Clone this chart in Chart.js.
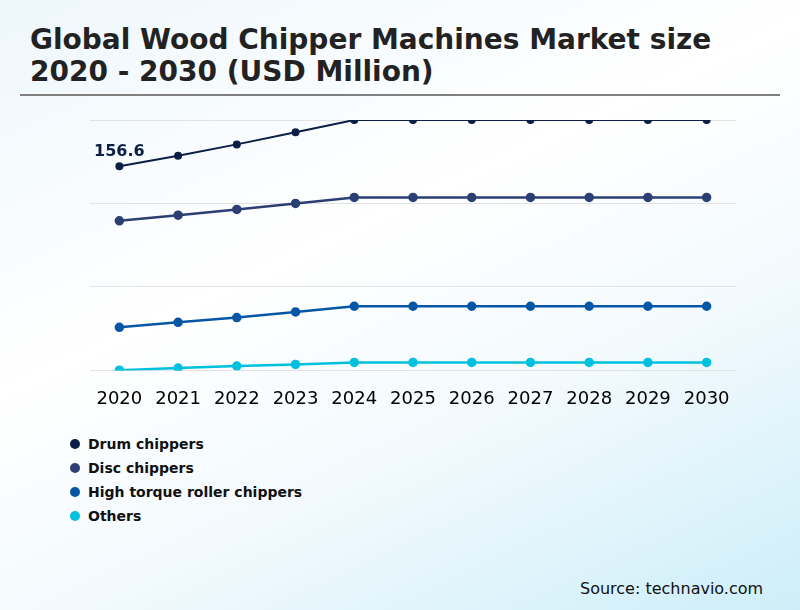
<!DOCTYPE html>
<html>
<head>
<meta charset="utf-8">
<script src="https://cdn.jsdelivr.net/npm/chart.js@4.4.0/dist/chart.umd.min.js"></script>
<style>
  html, body { margin: 0; padding: 0; }
  body {
    width: 800px; height: 610px; overflow: hidden; position: relative;
    font-family: "DejaVu Sans", sans-serif;
    background: linear-gradient(155deg, #eef7fc 0%, #ffffff 40%, #f3fafd 65%, #cdeef9 100%);
  }
  #title {
    position: absolute; left: 30px; top: 24px; margin: 0;
    font-size: 28px; font-weight: bold; line-height: 32px; color: #222;
  }
  #rule { position: absolute; left: 20px; top: 94px; width: 760px; height: 2px; background: #808080; }
  #wrap { position: absolute; left: 0; top: 100px; width: 800px; height: 328px; }
  #legend { position: absolute; left: 70px; top: 432px; }
  .item { height: 24px; display: flex; align-items: center; font-size: 14px; font-weight: bold; color: #111; }
  .dot { width: 10px; height: 10px; border-radius: 50%; margin-right: 8px; }
  #source { position: absolute; left: 580px; top: 579px; font-size: 16px; color: #111; }
</style>
</head>
<body>
<div id="title">Global Wood Chipper Machines Market size<br>2020 - 2030 (USD Million)</div>
<div id="rule"></div>
<div id="wrap"><canvas id="chipperChart"></canvas></div>
<div id="legend"></div>
<div id="source">Source: technavio.com</div>
<script>
// Data
const years = ['2020', '2021', '2022', '2023', '2024', '2025', '2026', '2027', '2028', '2029', '2030'];
const seriesNames = ['Drum chippers', 'Disc chippers', 'High torque roller chippers', 'Others'];
const seriesColors = ['#0b1e45', '#2c3f73', '#0557a6', '#00c0e0'];
const drumValues = [156.6, 164.6, 173.3, 182.6, 192, 192, 192, 192, 192, 192, 192];
const discValues = [114.7, 119.0, 123.4, 128.0, 132.6, 132.6, 132.6, 132.6, 132.6, 132.6, 132.6];
const rollerValues = [33.0, 36.9, 40.5, 44.8, 49.2, 49.2, 49.2, 49.2, 49.2, 49.2, 49.2];
const otherValues = [0.2, 1.8, 3.3, 4.6, 6.1, 6.1, 6.1, 6.1, 6.1, 6.1, 6.1];
const yTicks = [0, 64, 128, 192];

const allValues = [drumValues, discValues, rollerValues, otherValues];

// label only the first Drum chippers point
const firstLabel = {
    id: 'firstLabel',
    afterDatasetsDraw(chart) {
        const pt = chart.getDatasetMeta(0).data[0];
        const c = chart.ctx;
        c.save();
        c.font = 'bold 16px "DejaVu Sans"';
        c.fillStyle = seriesColors[0];
        c.textAlign = 'center';
        c.textBaseline = 'bottom';
        c.fillText(String(drumValues[0]), pt.x, pt.y - 6);
        c.restore();
    }
};

const ctx = document.getElementById('chipperChart').getContext('2d');
const chipperChart = new Chart(ctx, {
    type: 'line',
    data: {
        labels: years,
        datasets: allValues.map((vals, i) => ({
            label: seriesNames[i],
            data: vals,
            borderColor: seriesColors[i],
            backgroundColor: seriesColors[i],
            borderWidth: i === 0 ? 2 : 2.5,
            pointRadius: i === 0 ? 3 : 3.5,
            pointHoverRadius: 4,
            tension: 0
        }))
    },
    options: {
        responsive: true,
        maintainAspectRatio: false,
        animation: false,
        layout: {
            autoPadding: false,
            padding: { top: 20, left: 90, right: 64, bottom: 8 }
        },
        scales: {
            x: {
                offset: true,
                grid: { display: false },
                border: { display: false },
                ticks: {
                    color: '#000',
                    padding: 10,
                    font: { family: 'DejaVu Sans', size: 18 }
                }
            },
            y: {
                min: yTicks[0],
                max: yTicks[yTicks.length - 1],
                afterBuildTicks: s => { s.ticks = yTicks.map(v => ({ value: v })); },
                afterFit: s => { s.width = 0; },
                grid: { color: '#e3e3e3', lineWidth: 1, drawTicks: false },
                border: { display: false },
                ticks: { display: false }
            }
        },
        plugins: {
            legend: { display: false },
            tooltip: { enabled: false }
        }
    },
    plugins: [firstLabel]
});

// html legend, vertical like the original
const legend = document.getElementById('legend');
seriesNames.forEach((name, i) => {
    const row = document.createElement('div');
    row.className = 'item';
    row.innerHTML = '<span class="dot" style="background:' + seriesColors[i] + '"></span>' + name;
    legend.appendChild(row);
});
</script>
</body>
</html>
